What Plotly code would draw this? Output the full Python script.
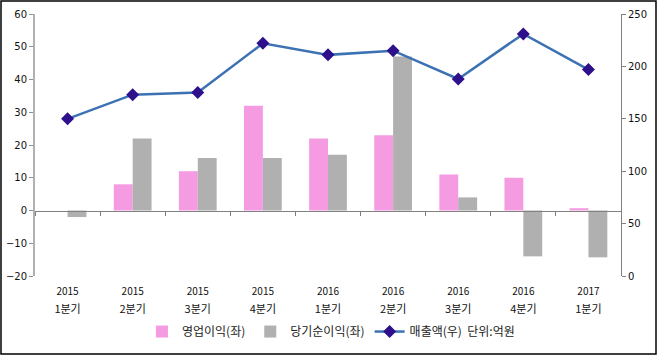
import plotly.graph_objects as go

years = ["2015", "2015", "2015", "2015", "2016", "2016", "2016", "2016", "2017"]
quarters = ["1분기", "2분기", "3분기", "4분기", "1분기", "2분기", "3분기", "4분기", "1분기"]
categories = [f"{y} {q}" for y, q in zip(years, quarters)]

operating_profit = [0, 8, 12, 32, 22, 23, 11, 10, 0.7]
net_profit = [-2, 22, 16, 16, 17, 47, 4, -14, -14.3]
sales = [150, 173, 175, 222, 211, 215, 188, 231, 197]

W, H = 658, 356
ML, MR, MT, MB = 35, 37, 14, 80
PW, PH = W - ML - MR, H - MT - MB

FONT = "Noto Sans CJK KR, DejaVu Sans, sans-serif"

fig = go.Figure()
fig.add_trace(go.Bar(x=categories, y=operating_profit, name="영업이익(좌)",
                     marker=dict(color="#F59BE2", line=dict(width=0))))
fig.add_trace(go.Bar(x=categories, y=net_profit, name="당기순이익(좌)",
                     marker=dict(color="#B0B0B0", line=dict(width=0))))
fig.add_trace(go.Scatter(x=categories, y=sales, name="매출액(우)  단위:억원",
                         xaxis="x2", yaxis="y2", mode="lines+markers",
                         line=dict(color="#3C72B4", width=2.5),
                         marker=dict(symbol="diamond", size=10, color="#2E0F8C",
                                     line=dict(width=0))))
# invisible trace carrying the quarter labels axis
fig.add_trace(go.Scatter(x=categories, y=[None] * len(categories), xaxis="x3",
                         showlegend=False, hoverinfo="skip"))

fig.update_layout(
    width=W, height=H,
    margin=dict(l=ML, r=MR, t=MT, b=MB, autoexpand=False),
    paper_bgcolor="white", plot_bgcolor="white",
    font=dict(family=FONT, size=10, color="#222"),
    barmode="group", bargap=0.42, bargroupgap=0,
    showlegend=True,
    legend=dict(orientation="h", x=0.505, xanchor="center", y=-0.212, yanchor="middle",
                font=dict(size=12, family=FONT, color="#222"),
                traceorder="normal", itemwidth=30),
    xaxis=dict(type="category", range=[-0.5, 8.5], showline=False, ticks="",
               showgrid=False, automargin=False,
               tickmode="array", tickvals=categories, ticktext=years,
               tickfont=dict(size=10, family=FONT, color="#111"), ticklabelstandoff=8),
    xaxis3=dict(type="category", range=[-0.5, 8.5], overlaying="x", anchor="y",
                side="bottom", showline=False, ticks="", showgrid=False, automargin=False,
                tickmode="array", tickvals=categories, ticktext=quarters,
                tickfont=dict(size=11, family=FONT, color="#111"), ticklabelstandoff=25),
    xaxis2=dict(type="category", range=[-0.5, 8.5], overlaying="x", anchor="free",
                position=0.25, showline=True, linecolor="#808080", linewidth=1,
                ticks="outside", tickson="boundaries", ticklen=4, tickcolor="#808080",
                showticklabels=False, showgrid=False, automargin=False),
    yaxis=dict(range=[-20, 60], dtick=10, showgrid=False, zeroline=False,
               showline=True, linecolor="#B0B0B0", linewidth=2,
               ticks="outside", ticklen=4, tickcolor="#909090", automargin=False,
               tickfont=dict(size=10, family="DejaVu Sans", color="#111")),
    yaxis2=dict(range=[0, 250], dtick=50, overlaying="y", side="right",
                anchor="free", position=1, showgrid=False, zeroline=False,
                showline=True, linecolor="#808080", linewidth=1, automargin=False,
                ticks="outside", ticklen=4, tickcolor="#808080",
                tickfont=dict(size=10, family="DejaVu Sans", color="#111")),
    shapes=[dict(type="rect", xref="paper", yref="paper",
                 x0=(-ML + 1) / PW, x1=(W - ML - 2) / PW,
                 y0=-(MB - 2) / PH, y1=(PH + MT - 1) / PH,
                 line=dict(color="black", width=1.5), fillcolor="rgba(0,0,0,0)")],
)

fig.write_html("out.html", config={"displayModeBar": False},
               post_script="document.body.style.margin='0';document.body.style.overflow='hidden';")
